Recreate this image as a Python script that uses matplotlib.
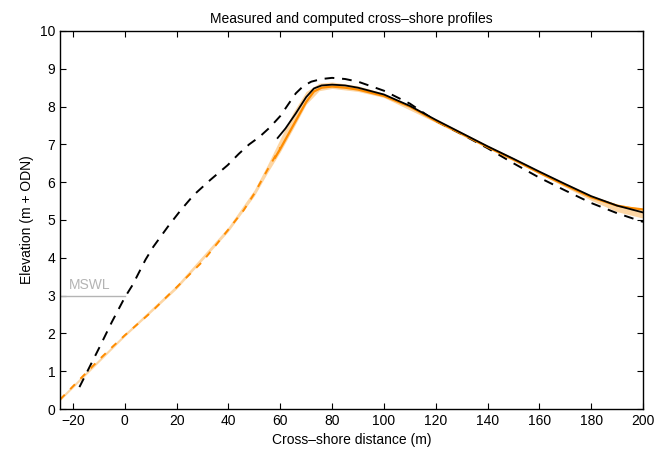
import numpy as np
import matplotlib
matplotlib.use('Agg')
import matplotlib.pyplot as plt

plt.rcParams['font.family'] = ['Liberation Sans', 'DejaVu Sans']

# measured pre-storm profile (black dashed)
x_pre = [-17.5, -10, -5, 0, 3, 8, 11, 16.6, 21.6, 26.6, 33, 39.7, 44, 48, 52, 56, 60, 63, 66, 69, 72, 76, 80,
         85, 90, 100, 110, 120, 130, 140, 150, 160, 170, 180, 190, 200]
y_pre = [0.58, 1.6, 2.3, 2.95, 3.28, 3.95, 4.29, 4.82, 5.26, 5.66, 6.06, 6.45, 6.75, 7.0, 7.2, 7.45, 7.75, 8.05, 8.35, 8.55, 8.66, 8.73, 8.76,
         8.73, 8.66, 8.42, 8.08, 7.62, 7.27, 6.9, 6.5, 6.12, 5.78, 5.45, 5.18, 4.95]

# measured post-storm profile (black solid)
x_post = [59, 62, 66, 70, 73, 76, 80, 85, 90, 100, 110, 120, 130, 140, 150, 160, 170, 180, 190, 200]
y_post = [7.17, 7.42, 7.82, 8.25, 8.48, 8.56, 8.58, 8.56, 8.5, 8.32, 8.02, 7.65, 7.3, 6.95, 6.62, 6.28, 5.95, 5.63, 5.38, 5.2]

# computed profile, seaward part (orange dashed)
x_comp_lo = [-25, -20, -15, -10, -5, 0, 10, 17.7, 20, 30, 35.8, 40, 45.9, 50, 55, 60]
y_comp_lo = [0.25, 0.6, 0.95, 1.3, 1.63, 1.95, 2.55, 3.07, 3.22, 3.9, 4.39, 4.75, 5.26, 5.7, 6.32, 6.92]

# computed profile, upper part (orange solid)
x_comp = [58, 60, 65, 70, 73, 76, 80, 85, 90, 100, 110, 120, 130, 140, 150, 160, 170, 180, 190, 195, 200]
y_comp = [6.65, 6.88, 7.5, 8.12, 8.4, 8.5, 8.53, 8.5, 8.45, 8.28, 8.0, 7.62, 7.28, 6.93, 6.6, 6.25, 5.92, 5.6, 5.38, 5.32, 5.28]

# envelope of computed profiles (light orange band)
x_band = [-25, 0, 20, 40, 50, 55, 60, 65, 70, 75, 80, 90, 100, 120, 140, 160, 180, 190, 200]
band_lo = [0.22, 1.92, 3.18, 4.7, 5.64, 6.24, 6.8, 7.42, 8.06, 8.42, 8.48, 8.4, 8.24, 7.58, 6.9, 6.22, 5.52, 5.22, 5.05]
band_hi = [0.3, 2.0, 3.28, 4.82, 5.8, 6.45, 7.15, 7.85, 8.4, 8.62, 8.65, 8.55, 8.35, 7.68, 6.98, 6.3, 5.66, 5.42, 5.3]

mswl = 3.0

fig = plt.figure(figsize=(6.68, 4.53), dpi=100)
ax = fig.add_axes([0.0898, 0.0971, 0.8728, 0.8345])

ax.fill_between(x_band, band_lo, band_hi, color='#fdd6a4', lw=0)
ax.plot(x_pre, y_pre, color='k', ls=(0, (5, 4)), lw=1.4)
ax.plot(x_comp_lo, y_comp_lo, color='#ff8c00', ls=(0, (3.5, 4)), lw=1.4)
ax.plot(x_comp, y_comp, color='#ff8c00', lw=1.6)
ax.plot(x_post, y_post, color='k', lw=1.3)

ax.plot([-25, 0], [mswl, mswl], color='#b4b4b4', lw=1)
ax.text(-21.5, mswl + 0.1, 'MSWL', color='#b4b4b4', fontsize=10, va='bottom')

ax.set_xlim(-25, 200)
ax.set_ylim(0, 10)
ax.set_xticks(np.arange(-20, 201, 20))
ax.set_yticks(np.arange(0, 11, 1))
ax.tick_params(direction='in', top=True, right=True, length=4, labelsize=10)
for s in ax.spines.values():
    s.set_linewidth(1)

ax.set_xlabel('Cross\u2013shore distance (m)', fontsize=10)
ax.set_ylabel('Elevation (m + ODN)', fontsize=10)
ax.set_title('Measured and computed cross\u2013shore profiles', fontsize=10)

fig.savefig('out.png', dpi=100)
